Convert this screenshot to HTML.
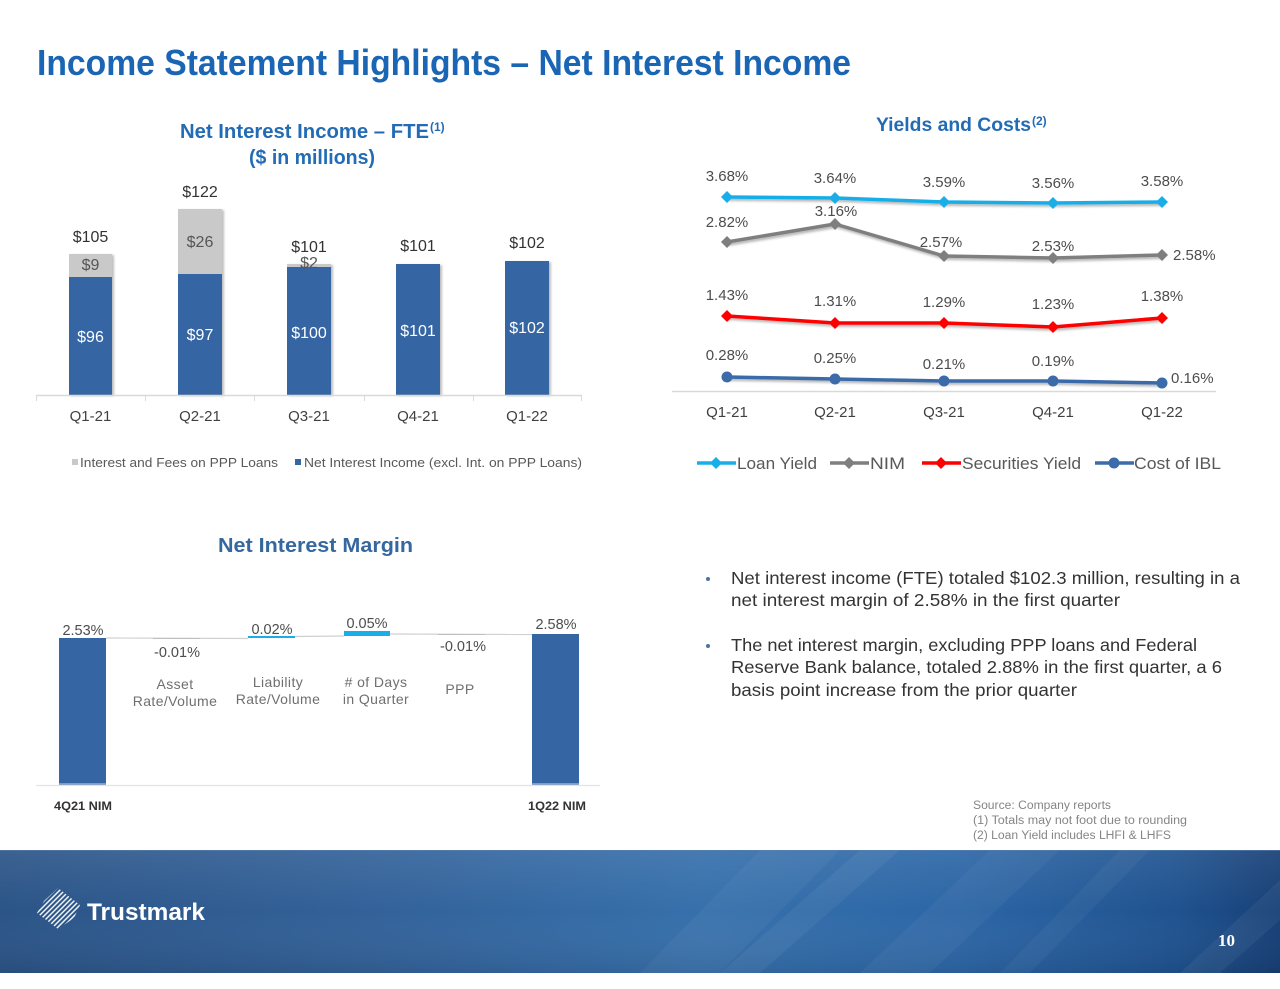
<!DOCTYPE html>
<html>
<head>
<meta charset="utf-8">
<style>
html,body{margin:0;padding:0;background:#fff;}
svg{display:block;}
text{font-family:"Liberation Sans",sans-serif;}
</style>
</head>
<body>
<svg width="1280" height="989" viewBox="0 0 1280 989" xmlns="http://www.w3.org/2000/svg">
<defs>
  <filter id="sh" x="-10%" y="-10%" width="130%" height="150%">
    <feDropShadow dx="1.5" dy="2" stdDeviation="1.2" flood-color="#000" flood-opacity="0.3"/>
  </filter>
  <filter id="bsh" x="-10%" y="-5%" width="130%" height="110%">
    <feDropShadow dx="2" dy="1" stdDeviation="1" flood-color="#000" flood-opacity="0.25"/>
  </filter>
  <linearGradient id="band" x1="0" y1="0" x2="1" y2="0">
    <stop offset="0" stop-color="#2b5487"/>
    <stop offset="0.3" stop-color="#33629a"/>
    <stop offset="0.55" stop-color="#3670ab"/>
    <stop offset="0.75" stop-color="#2c66a6"/>
    <stop offset="0.92" stop-color="#1f528f"/>
    <stop offset="1" stop-color="#173f76"/>
  </linearGradient>
  <linearGradient id="bandv" x1="0" y1="0" x2="0" y2="1">
    <stop offset="0" stop-color="#ffffff" stop-opacity="0.08"/>
    <stop offset="0.5" stop-color="#ffffff" stop-opacity="0"/>
    <stop offset="1" stop-color="#000000" stop-opacity="0.08"/>
  </linearGradient>
  <clipPath id="bandclip"><rect x="0" y="850" width="1280" height="123"/></clipPath>
  <clipPath id="logoclip"><polygon points="58,888 80,905 74,918 58,929 37,913 44,901"/></clipPath>
</defs>

<rect x="0" y="0" width="1280" height="989" fill="#fff"/>

<!-- Main title -->
<text x="37" y="75" font-size="36" font-weight="bold" fill="#1a66b5" textLength="814" lengthAdjust="spacingAndGlyphs">Income Statement Highlights – Net Interest Income</text>

<!-- ============ Bar chart ============ -->
<text x="180" y="138" font-size="20" font-weight="bold" fill="#236cb5" textLength="249" lengthAdjust="spacingAndGlyphs">Net Interest Income – FTE</text>
<text x="430" y="131" font-size="12" font-weight="bold" fill="#236cb5">(1)</text>
<text x="249" y="164" font-size="20" font-weight="bold" fill="#236cb5" textLength="126" lengthAdjust="spacingAndGlyphs">($ in millions)</text>

<g filter="url(#bsh)">
  <!-- Q1-21 -->
  <rect x="69" y="277" width="43" height="118" fill="#3566a3"/>
  <rect x="69" y="254" width="43" height="23" fill="#c9c9c9"/>
  <!-- Q2-21 -->
  <rect x="178" y="274" width="44" height="121" fill="#3566a3"/>
  <rect x="178" y="209" width="44" height="65" fill="#c9c9c9"/>
  <!-- Q3-21 -->
  <rect x="287" y="267" width="44" height="128" fill="#3566a3"/>
  <rect x="287" y="264" width="44" height="3" fill="#c9c9c9"/>
  <!-- Q4-21 -->
  <rect x="396" y="264" width="44" height="131" fill="#3566a3"/>
  <!-- Q1-22 -->
  <rect x="505" y="261" width="44" height="134" fill="#3566a3"/>
</g>

<line x1="36" y1="395.5" x2="582" y2="395.5" stroke="#d9d9d9" stroke-width="1.5"/>
<g stroke="#d9d9d9" stroke-width="1">
  <line x1="36.5" y1="395" x2="36.5" y2="401"/>
  <line x1="145.5" y1="395" x2="145.5" y2="401"/>
  <line x1="254.5" y1="395" x2="254.5" y2="401"/>
  <line x1="364.5" y1="395" x2="364.5" y2="401"/>
  <line x1="473.5" y1="395" x2="473.5" y2="401"/>
  <line x1="581.5" y1="395" x2="581.5" y2="401"/>
</g>

<g font-size="16" fill="#333" text-anchor="middle">
  <text x="90.5" y="242">$105</text>
  <text x="200" y="197">$122</text>
  <text x="309" y="252">$101</text>
  <text x="418" y="251">$101</text>
  <text x="527" y="248">$102</text>
</g>
<g font-size="16" fill="#555" text-anchor="middle">
  <text x="90.5" y="270">$9</text>
  <text x="200" y="247">$26</text>
  <text x="309" y="268">$2</text>
</g>
<g font-size="16" fill="#fff" text-anchor="middle">
  <text x="90.5" y="342">$96</text>
  <text x="200" y="340">$97</text>
  <text x="309" y="338">$100</text>
  <text x="418" y="336">$101</text>
  <text x="527" y="333">$102</text>
</g>
<g font-size="15" fill="#404040" text-anchor="middle">
  <text x="90.5" y="421">Q1-21</text>
  <text x="200" y="421">Q2-21</text>
  <text x="309" y="421">Q3-21</text>
  <text x="418" y="421">Q4-21</text>
  <text x="527" y="421">Q1-22</text>
</g>

<rect x="72" y="459" width="6" height="6" fill="#c9c9c9"/>
<text x="80" y="467" font-size="13" fill="#595959" textLength="198" lengthAdjust="spacingAndGlyphs">Interest and Fees on PPP Loans</text>
<rect x="295" y="459" width="6" height="6" fill="#3566a3"/>
<text x="304" y="467" font-size="13" fill="#595959" textLength="278" lengthAdjust="spacingAndGlyphs">Net Interest Income (excl. Int. on PPP Loans)</text>

<!-- ============ Line chart ============ -->
<text x="876" y="131" font-size="19" font-weight="bold" fill="#236cb5" textLength="155" lengthAdjust="spacingAndGlyphs">Yields and Costs</text>
<text x="1032" y="125" font-size="12" font-weight="bold" fill="#236cb5">(2)</text>

<line x1="672" y1="391.5" x2="1216" y2="391.5" stroke="#d9d9d9" stroke-width="1.5"/>

<g filter="url(#sh)" fill="none" stroke-width="3.5" stroke-linejoin="round">
  <polyline points="727,197 835,198 944,202 1053,203 1162,202" stroke="#19aee8"/>
  <polyline points="727,242 835,224 944,256 1053,258 1162,255" stroke="#7f7f7f"/>
  <polyline points="727,316 835,323 944,323 1053,327 1162,318" stroke="#ff0000"/>
  <polyline points="727,377 835,379 944,381 1053,381 1162,383" stroke="#3b6ba8"/>
</g>
<!-- markers -->
<g fill="#19aee8">
  <polygon points="727,191 733,197 727,203 721,197"/>
  <polygon points="835,192 841,198 835,204 829,198"/>
  <polygon points="944,196 950,202 944,208 938,202"/>
  <polygon points="1053,197 1059,203 1053,209 1047,203"/>
  <polygon points="1162,196 1168,202 1162,208 1156,202"/>
</g>
<g fill="#7f7f7f">
  <polygon points="727,236 733,242 727,248 721,242"/>
  <polygon points="835,218 841,224 835,230 829,224"/>
  <polygon points="944,250 950,256 944,262 938,256"/>
  <polygon points="1053,252 1059,258 1053,264 1047,258"/>
  <polygon points="1162,249 1168,255 1162,261 1156,255"/>
</g>
<g fill="#ff0000">
  <polygon points="727,310 733,316 727,322 721,316"/>
  <polygon points="835,317 841,323 835,329 829,323"/>
  <polygon points="944,317 950,323 944,329 938,323"/>
  <polygon points="1053,321 1059,327 1053,333 1047,327"/>
  <polygon points="1162,312 1168,318 1162,324 1156,318"/>
</g>
<g fill="#3b6ba8">
  <circle cx="727" cy="377" r="5.5"/>
  <circle cx="835" cy="379" r="5.5"/>
  <circle cx="944" cy="381" r="5.5"/>
  <circle cx="1053" cy="381" r="5.5"/>
  <circle cx="1162" cy="383" r="5.5"/>
</g>

<g font-size="15" fill="#4d4d4d" text-anchor="middle">
  <text x="727" y="181">3.68%</text>
  <text x="835" y="183">3.64%</text>
  <text x="944" y="187">3.59%</text>
  <text x="1053" y="188">3.56%</text>
  <text x="1162" y="186">3.58%</text>
  <text x="727" y="227">2.82%</text>
  <text x="836" y="216">3.16%</text>
  <text x="941" y="247">2.57%</text>
  <text x="1053" y="251">2.53%</text>
  <text x="727" y="300">1.43%</text>
  <text x="835" y="306">1.31%</text>
  <text x="944" y="307">1.29%</text>
  <text x="1053" y="309">1.23%</text>
  <text x="1162" y="301">1.38%</text>
  <text x="727" y="360">0.28%</text>
  <text x="835" y="363">0.25%</text>
  <text x="944" y="369">0.21%</text>
  <text x="1053" y="366">0.19%</text>
</g>
<g font-size="15" fill="#4d4d4d">
  <text x="1173" y="260">2.58%</text>
  <text x="1171" y="383">0.16%</text>
</g>
<g font-size="15" fill="#404040" text-anchor="middle">
  <text x="727" y="417">Q1-21</text>
  <text x="835" y="417">Q2-21</text>
  <text x="944" y="417">Q3-21</text>
  <text x="1053" y="417">Q4-21</text>
  <text x="1162" y="417">Q1-22</text>
</g>

<!-- line legend -->
<g stroke-width="3.5">
  <line x1="697" y1="463" x2="736" y2="463" stroke="#19aee8"/>
  <line x1="830" y1="463" x2="869" y2="463" stroke="#7f7f7f"/>
  <line x1="922" y1="463" x2="961" y2="463" stroke="#ff0000"/>
  <line x1="1095" y1="463" x2="1134" y2="463" stroke="#3b6ba8"/>
</g>
<polygon points="716,457 722,463 716,469 710,463" fill="#19aee8"/>
<polygon points="849,457 855,463 849,469 843,463" fill="#7f7f7f"/>
<polygon points="941,457 947,463 941,469 935,463" fill="#ff0000"/>
<circle cx="1114" cy="463" r="5.5" fill="#3b6ba8"/>
<g font-size="17" fill="#595959">
  <text x="737" y="469" textLength="80" lengthAdjust="spacingAndGlyphs">Loan Yield</text>
  <text x="870" y="469" textLength="35" lengthAdjust="spacingAndGlyphs">NIM</text>
  <text x="962" y="469" textLength="119" lengthAdjust="spacingAndGlyphs">Securities Yield</text>
  <text x="1134" y="469" textLength="87" lengthAdjust="spacingAndGlyphs">Cost of IBL</text>
</g>

<!-- ============ Waterfall ============ -->
<text x="218" y="552" font-size="20" font-weight="bold" fill="#34689f" textLength="195" lengthAdjust="spacingAndGlyphs">Net Interest Margin</text>

<!-- connectors -->
<g stroke="#d0d0d0" stroke-width="1.2" fill="none">
  <line x1="106" y1="638" x2="248" y2="638.5"/>
  <line x1="295" y1="636.5" x2="344" y2="636"/>
  <line x1="390" y1="634" x2="532" y2="634.5"/>
</g>
<line x1="153" y1="638.5" x2="200" y2="638.5" stroke="#bfbfbf" stroke-width="1"/>
<line x1="438" y1="634.5" x2="485" y2="634.5" stroke="#bfbfbf" stroke-width="1"/>
<rect x="248" y="636" width="47" height="2" fill="#19aee8"/>
<rect x="344" y="631" width="46" height="5" fill="#19aee8"/>

<rect x="59" y="638" width="47" height="147" fill="#3566a3"/>
<rect x="532" y="634" width="47" height="151" fill="#3566a3"/>
<rect x="59" y="783" width="47" height="3" fill="#7d9cc4"/>
<rect x="532" y="783" width="47" height="3" fill="#7d9cc4"/>
<line x1="36" y1="785.5" x2="600" y2="785.5" stroke="#e3e3e3" stroke-width="1.2"/>

<g font-size="14.5" fill="#4d4d4d" text-anchor="middle">
  <text x="83" y="635">2.53%</text>
  <text x="177" y="657">-0.01%</text>
  <text x="272" y="634">0.02%</text>
  <text x="367" y="628">0.05%</text>
  <text x="463" y="651">-0.01%</text>
  <text x="556" y="629">2.58%</text>
</g>
<g font-size="14" fill="#6f6f6f" text-anchor="middle" letter-spacing="0.4">
  <text x="175" y="689">Asset</text>
  <text x="175" y="706">Rate/Volume</text>
  <text x="278" y="687">Liability</text>
  <text x="278" y="704">Rate/Volume</text>
  <text x="376" y="687"># of Days</text>
  <text x="376" y="704">in Quarter</text>
  <text x="460" y="694">PPP</text>
</g>
<g font-size="12" font-weight="bold" fill="#333" text-anchor="middle">
  <text x="83" y="810" textLength="58" lengthAdjust="spacingAndGlyphs">4Q21 NIM</text>
  <text x="557" y="810" textLength="58" lengthAdjust="spacingAndGlyphs">1Q22 NIM</text>
</g>

<!-- ============ Bullets ============ -->
<circle cx="708" cy="579" r="2" fill="#4a72a8"/>
<circle cx="708" cy="646" r="2" fill="#4a72a8"/>
<g font-size="17.5" fill="#333">
  <text x="731" y="584" textLength="509" lengthAdjust="spacingAndGlyphs">Net interest income (FTE) totaled $102.3 million, resulting in a</text>
  <text x="731" y="606" textLength="389" lengthAdjust="spacingAndGlyphs">net interest margin of 2.58% in the first quarter</text>
  <text x="731" y="651" textLength="466" lengthAdjust="spacingAndGlyphs">The net interest margin, excluding PPP loans and Federal</text>
  <text x="731" y="673" textLength="491" lengthAdjust="spacingAndGlyphs">Reserve Bank balance, totaled 2.88% in the first quarter, a 6</text>
  <text x="731" y="696" textLength="346" lengthAdjust="spacingAndGlyphs">basis point increase from the prior quarter</text>
</g>

<!-- Source -->
<g font-size="11.5" fill="#858585">
  <text x="973" y="809" textLength="138" lengthAdjust="spacingAndGlyphs">Source: Company reports</text>
  <text x="973" y="824" textLength="214" lengthAdjust="spacingAndGlyphs">(1) Totals may not foot due to rounding</text>
  <text x="973" y="839" textLength="198" lengthAdjust="spacingAndGlyphs">(2) Loan Yield  includes LHFI &amp; LHFS</text>
</g>

<!-- ============ Footer band ============ -->
<rect x="0" y="850" width="1280" height="123" fill="url(#band)"/>
<rect x="0" y="850" width="1280" height="123" fill="url(#bandv)"/>
<g clip-path="url(#bandclip)" fill="#ffffff">
  <polygon points="640,973 760,850 840,850 720,973" fill-opacity="0.04"/>
  <polygon points="720,973 860,850 900,850 760,973" fill-opacity="0.05"/>
  <polygon points="860,973 990,850 1060,850 930,973" fill-opacity="0.04"/>
  <polygon points="1000,973 1120,850 1150,850 1030,973" fill-opacity="0.04"/>
  <polygon points="1180,973 1280,880 1280,920 1220,973" fill-opacity="0.05"/>
</g>
<line x1="0" y1="850.5" x2="1280" y2="850.5" stroke="#5a7fae" stroke-width="1" stroke-opacity="0.6"/>

<!-- logo -->
<g clip-path="url(#logoclip)" stroke="#ffffff" stroke-width="1.4" opacity="0.95">
  <line x1="30" y1="905" x2="60" y2="875"/>
  <line x1="30" y1="910" x2="63" y2="877"/>
  <line x1="30" y1="915" x2="66" y2="879"/>
  <line x1="31" y1="919" x2="69" y2="881"/>
  <line x1="33" y1="922" x2="72" y2="883"/>
  <line x1="36" y1="924" x2="75" y2="885"/>
  <line x1="39" y1="926" x2="78" y2="887"/>
  <line x1="42" y1="928" x2="81" y2="889"/>
  <line x1="45" y1="930" x2="84" y2="891"/>
  <line x1="48" y1="932" x2="87" y2="893"/>
  <line x1="51" y1="934" x2="90" y2="895"/>
  <line x1="54" y1="936" x2="93" y2="897"/>
  <line x1="57" y1="938" x2="96" y2="899"/>
  <line x1="60" y1="940" x2="99" y2="901"/>
</g>
<text x="87" y="920" font-size="24" font-weight="bold" fill="#ffffff" textLength="118" lengthAdjust="spacingAndGlyphs">Trustmark</text>

<text x="1218" y="946" font-family="Liberation Serif, serif" font-size="17" font-weight="bold" fill="#ffffff" style="font-family:'Liberation Serif',serif">10</text>

</svg>
</body>
</html>
